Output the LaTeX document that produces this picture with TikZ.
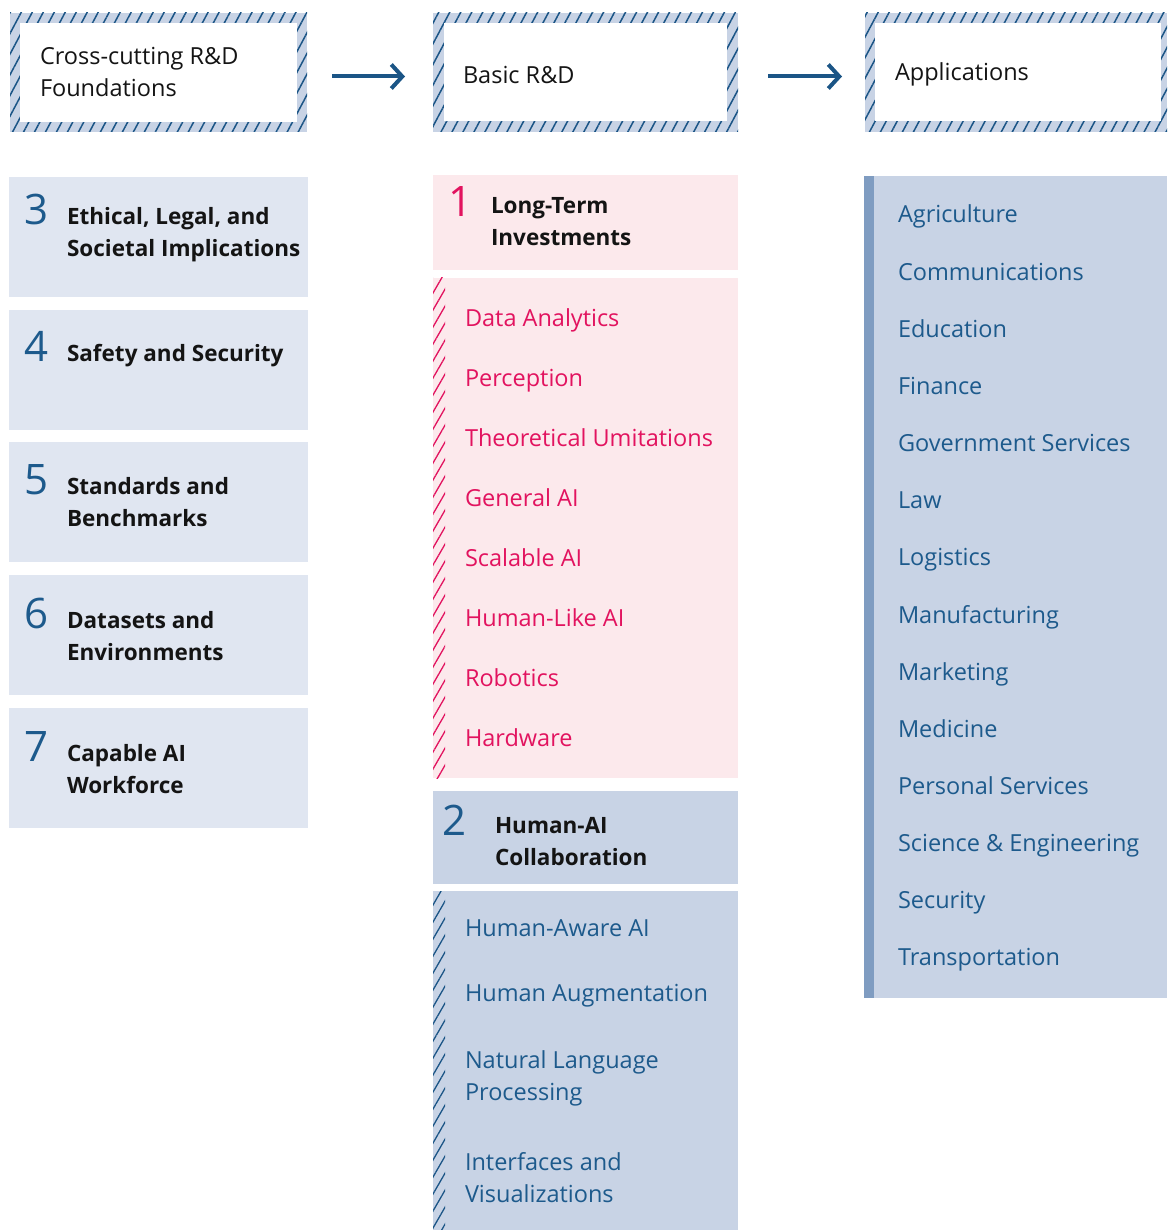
\documentclass[tikz,border=0pt]{standalone}
\usepackage{fontspec}
\setmainfont{Open Sans}
\usetikzlibrary{positioning, arrows.meta, patterns.meta}
\definecolor{darkBlue}{HTML}{1B5586}
\definecolor{textBlue}{HTML}{1D5A8C}
\definecolor{midBlue}{HTML}{C8D3E5}
\definecolor{paleBlue}{HTML}{E0E6F1}
\definecolor{barBlue}{HTML}{7F9CC1}
\definecolor{palePink}{HTML}{FCE9EC}
\definecolor{mainRed}{HTML}{E2135F}
\definecolor{mainBlack}{gray}{0.08}

\begin{document}
\begin{tikzpicture}[x=1pt, y=-1pt,
    every node/.style={inner sep=0pt, outer sep=0pt},
    frameBox/.style={rectangle, minimum width=#1, minimum height=119,
      preaction={fill=midBlue}, pattern color=darkBlue,
      pattern={Lines[angle=62, distance=9.7pt, line width=1.5pt]}},
    plainBox/.style={rectangle, fill=#1, minimum width=305},
    stripHatch/.style={pattern={Lines[angle=60, distance=8.5pt, line width=1.3pt]}, pattern color=#1},
    bodyText/.style={font=\fontsize{23.5}{32}\selectfont, align=left},
    titleText/.style={font=\fontsize{22.5}{32}\selectfont\bfseries, text=mainBlack, align=left},
    numText/.style={font=\fontsize{42}{42}\selectfont, text=textBlue},
    flowArrow/.style={darkBlue, line width=4pt, -{Straight Barb[length=11pt, width=24pt]}}]
  \useasboundingbox (0,0) rectangle (1167,1230);

  % top frames
  \node[frameBox=297, anchor=north west] (cross) at (10,13) {};
  \node[frameBox=305, anchor=north west] (basic) at (433,13) {};
  \node[frameBox=302, anchor=north west] (apps) at (865,13) {};
  \fill[white] ([shift={(10,10)}]cross.north west) rectangle ([shift={(-10,-10)}]cross.south east);
  \fill[white] ([shift={(11,10)}]basic.north west) rectangle ([shift={(-11,-11)}]basic.south east);
  \fill[white] ([shift={(10,10)}]apps.north west) rectangle ([shift={(-6,-11)}]apps.south east);
  \node[bodyText, text=mainBlack, anchor=base west] (crossText) at (40,97) {Cross-cutting R\&D\\Foundations};
  \node[bodyText, text=mainBlack, anchor=base west] (basicText) at (463,84) {Basic R\&D};
  \node[bodyText, text=mainBlack, anchor=base west] (appsText) at (895,81) {Applications};

  \draw[flowArrow] ([shift={(25,4)}]cross.east) -- ([shift={(-28,4)}]basic.west);
  \draw[flowArrow] ([shift={(30,4)}]basic.east) -- ([shift={(-23,4)}]apps.west);

  % cross-cutting foundations (number baseline / title last baseline)
  \foreach \n/\top/\nb/\tb/\ttl in {3/177/48/80/{Ethical, Legal, and\\Societal Implications},
      4/310/51/51/{Safety and Security}, 5/442/52/84/{Standards and\\Benchmarks},
      6/575/53/85/{Datasets and\\Environments}, 7/708/53/85/{Capable AI\\Workforce}} {
    \node[plainBox=paleBlue, minimum width=299, minimum height=120, anchor=north west] (fnd\n) at (9,\top) {};
    \node[numText, anchor=base west] (fndNum\n) at ([shift={(15,\nb)}]fnd\n.north west) {\n};
    \node[titleText, anchor=base west] (fndTitle\n) at ([shift={(58,\tb)}]fnd\n.north west) {\ttl};
  }

  % basic R&D: long-term investments
  \node[plainBox=palePink, minimum height=95, anchor=north west] (ltHead) at (433,175) {};
  \node[numText, text=mainRed, anchor=base west] (ltNum) at ([shift={(15,42)}]ltHead.north west) {1};
  \node[titleText, anchor=base west] (ltTitle) at ([shift={(58,71)}]ltHead.north west) {Long-Term\\Investments};
  \node[plainBox=palePink, minimum height=500, anchor=north west] (ltList) at (433,278) {};
  \fill[stripHatch=mainRed] (ltList.north west) rectangle ([xshift=12pt]ltList.south west);
  \foreach \t [count=\i] in {Data Analytics, Perception, Theoretical Umitations, General AI,
      Scalable AI, Human-Like AI, Robotics, Hardware}
    \node[bodyText, text=mainRed, anchor=base west] (lt\i) at (465,{326+60*(\i-1)}) {\t};

  % basic R&D: human-AI collaboration
  \node[plainBox=midBlue, minimum height=93, anchor=north west] (haHead) at (433,791) {};
  \node[numText, anchor=base west] (haNum) at ([shift={(9,44)}]haHead.north west) {2};
  \node[titleText, anchor=base west] (haTitle) at ([shift={(62,74)}]haHead.north west) {Human-AI\\Collaboration};
  \node[plainBox=midBlue, minimum height=339, anchor=north west] (haList) at (433,891) {};
  \fill[stripHatch=darkBlue] (haList.north west) rectangle ([xshift=12pt]haList.south west);
  \foreach \t/\y [count=\i] in {Human-Aware AI/936, Human Augmentation/1001,
      {Natural Language\\Processing}/1100, {Interfaces and\\Visualizations}/1202}
    \node[bodyText, text=textBlue, anchor=base west] (ha\i) at (465,\y) {\t};

  % applications
  \node[rectangle, fill=midBlue, minimum width=303, minimum height=822, anchor=north west] (appList) at (864,176) {};
  \fill[barBlue] (appList.north west) rectangle ([xshift=10pt]appList.south west);
  \foreach \t [count=\i] in {Agriculture, Communications, Education, Finance,
      Government Services, Law, Logistics, Manufacturing, Marketing, Medicine,
      Personal Services, Science \& Engineering, Security, Transportation}
    \node[bodyText, text=textBlue, anchor=base west] (app\i) at (898,{223+57.15*(\i-1)}) {\t};
\end{tikzpicture}
\end{document}
